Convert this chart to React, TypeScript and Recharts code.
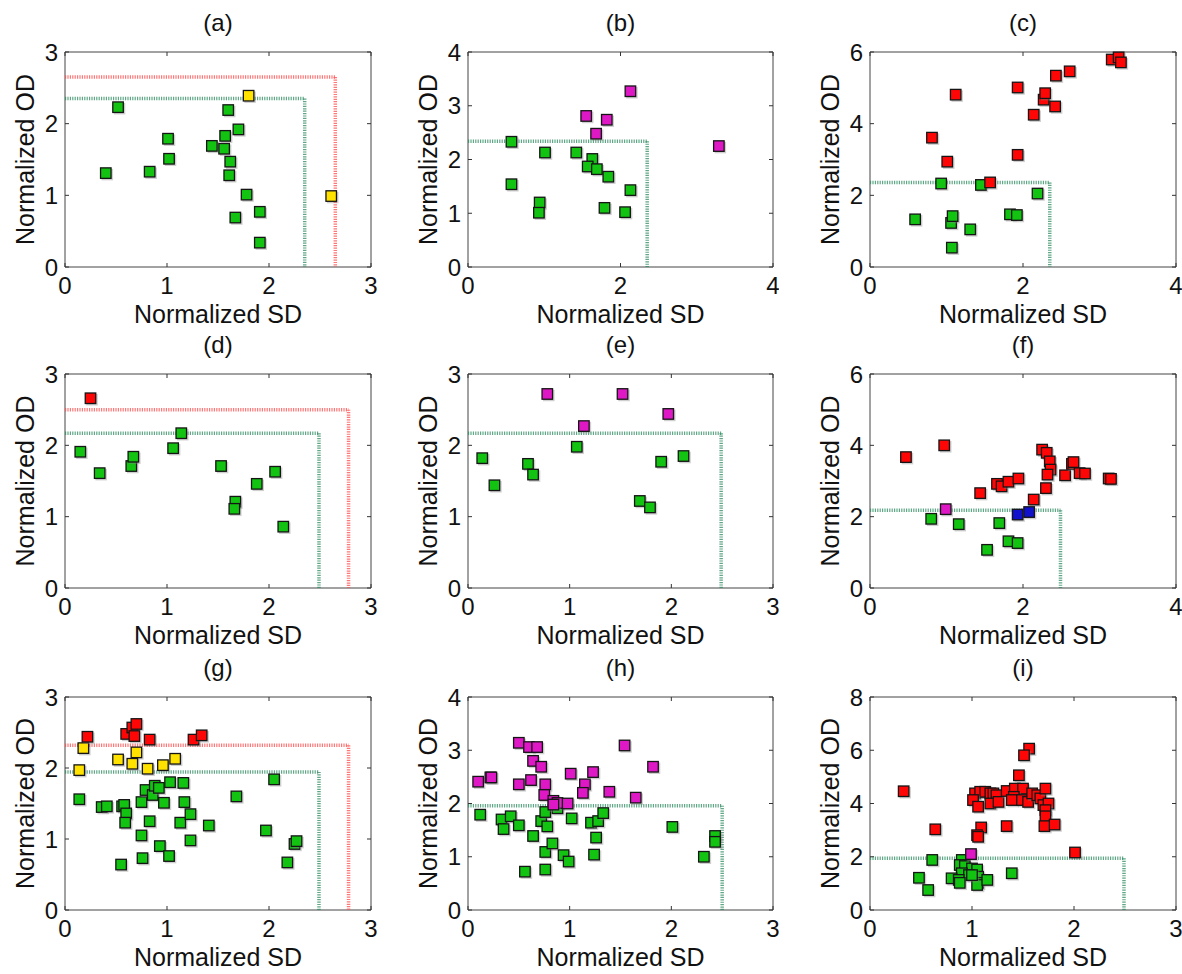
import React from 'react';
import {
  ScatterChart,
  Scatter,
  XAxis,
  YAxis,
  ReferenceLine,
  ReferenceArea,
  Label,
} from 'recharts';

type Pt = [number, number]; // [normalized SD, normalized OD]

// (a)
const aGreen: Pt[] = [
  [0.4, 1.31], [0.52, 2.23], [0.83, 1.33], [1.01, 1.79], [1.02, 1.51], [1.44, 1.69],
  [1.56, 1.65], [1.57, 1.83], [1.6, 2.19], [1.7, 1.92], [1.62, 1.47], [1.61, 1.28],
  [1.78, 1.01], [1.67, 0.69], [1.91, 0.77], [1.91, 0.34],
];
const aYellow: Pt[] = [[1.8, 2.39], [2.61, 0.99]];

// (b)
const bGreen: Pt[] = [
  [0.57, 2.33], [0.57, 1.54], [0.94, 1.2], [0.93, 1.01], [1.01, 2.13], [1.42, 2.13],
  [1.63, 2.01], [1.57, 1.87], [1.69, 1.82], [1.84, 1.68], [1.79, 1.1], [2.06, 1.02], [2.13, 1.43],
];
const bMagenta: Pt[] = [[1.55, 2.81], [1.82, 2.74], [1.68, 2.48], [2.13, 3.27], [3.29, 2.25]];

// (c)
const cRed: Pt[] = [
  [0.81, 3.61], [1.01, 2.94], [1.12, 4.81], [1.57, 2.36], [1.93, 5.01], [1.93, 3.13],
  [2.14, 4.25], [2.27, 4.67], [2.29, 4.85], [2.42, 4.48], [2.43, 5.34], [2.61, 5.46],
  [3.16, 5.79], [3.25, 5.85], [3.28, 5.71],
];
const cGreen: Pt[] = [
  [0.59, 1.33], [0.93, 2.33], [1.06, 1.23], [1.08, 1.42], [1.07, 0.54], [1.31, 1.05],
  [1.45, 2.29], [1.83, 1.47], [1.92, 1.45], [2.19, 2.05],
];

// (d)
const dRed: Pt[] = [[0.25, 2.66]];
const dGreen: Pt[] = [
  [0.15, 1.91], [0.34, 1.61], [0.65, 1.71], [0.67, 1.84], [1.06, 1.96], [1.14, 2.17],
  [1.53, 1.71], [1.67, 1.21], [1.66, 1.11], [1.88, 1.46], [2.06, 1.63], [2.14, 0.86],
];

// (e)
const eMagenta: Pt[] = [[0.78, 2.72], [1.52, 2.72], [1.14, 2.27], [1.97, 2.44]];
const eGreen: Pt[] = [
  [0.14, 1.82], [0.26, 1.44], [0.59, 1.74], [0.64, 1.59], [1.07, 1.98], [1.69, 1.22],
  [1.79, 1.13], [1.9, 1.77], [2.12, 1.85],
];

// (f)
const fRed: Pt[] = [
  [0.47, 3.67], [0.97, 4.0], [1.44, 2.66], [1.66, 2.92], [1.72, 2.85], [1.81, 2.98],
  [1.94, 3.07], [2.14, 2.48], [2.25, 3.88], [2.31, 3.79], [2.35, 3.55], [2.36, 3.32],
  [2.32, 3.18], [2.3, 2.8], [2.55, 3.16], [2.64, 3.48], [2.66, 3.53], [2.74, 3.22],
  [2.81, 3.21], [3.12, 3.07], [3.15, 3.06],
];
const fMagenta: Pt[] = [[0.99, 2.21]];
const fBlue: Pt[] = [[1.93, 2.06], [2.08, 2.13]];
const fGreen: Pt[] = [[0.8, 1.94], [1.16, 1.79], [1.69, 1.82], [1.53, 1.07], [1.81, 1.31], [1.93, 1.26]];

// (g)
const gRed: Pt[] = [
  [0.22, 2.44], [0.6, 2.48], [0.66, 2.57], [0.7, 2.62], [0.68, 2.45], [0.83, 2.4],
  [1.26, 2.4], [1.34, 2.46],
];
const gYellow: Pt[] = [
  [0.18, 2.28], [0.14, 1.97], [0.52, 2.12], [0.7, 2.22], [0.66, 2.06], [0.81, 1.99],
  [0.96, 2.04], [1.08, 2.13],
];
const gGreen: Pt[] = [
  [0.14, 1.56], [0.36, 1.45], [0.41, 1.46], [0.56, 1.46], [0.58, 1.48], [0.6, 1.36],
  [0.59, 1.23], [0.75, 1.52], [0.75, 1.05], [0.76, 0.73], [0.55, 0.64], [0.79, 1.69],
  [0.83, 1.25], [0.86, 1.62], [0.88, 1.75], [0.92, 1.72], [0.97, 1.51], [0.93, 0.9],
  [1.02, 0.76], [1.03, 1.8], [1.16, 1.79], [1.17, 1.52], [1.13, 1.23], [1.23, 1.35],
  [1.23, 0.98], [1.41, 1.19], [1.68, 1.6], [1.97, 1.12], [2.05, 1.84], [2.25, 0.93],
  [2.27, 0.97], [2.18, 0.67],
];

// (h)
const hMagenta: Pt[] = [
  [0.1, 2.41], [0.22, 2.49], [0.23, 2.49], [0.5, 3.14], [0.5, 2.36], [0.6, 3.06],
  [0.68, 3.06], [0.64, 2.8], [0.62, 2.44], [0.72, 2.69], [0.76, 2.36], [0.75, 2.16],
  [0.84, 2.05], [0.88, 2.01], [0.84, 1.98], [0.98, 2.0], [1.01, 2.56], [1.15, 2.36],
  [1.13, 2.2], [1.23, 2.59], [1.39, 2.22], [1.54, 3.09], [1.65, 2.11], [1.82, 2.69],
];
const hGreen: Pt[] = [
  [0.12, 1.79], [0.33, 1.7], [0.35, 1.52], [0.42, 1.76], [0.5, 1.59], [0.64, 1.39],
  [0.56, 0.72], [0.72, 1.67], [0.76, 1.84], [0.78, 1.57], [0.76, 1.09], [0.76, 0.76],
  [0.83, 1.25], [0.88, 1.91], [0.94, 1.03], [0.99, 0.91], [1.02, 1.72], [1.21, 1.64],
  [1.28, 1.67], [1.33, 1.82], [1.26, 1.36], [1.24, 1.04], [2.01, 1.56], [2.32, 1.0],
  [2.43, 1.39], [2.43, 1.28],
];

// (i)
const iRed: Pt[] = [
  [0.33, 4.46], [0.64, 3.03], [1.56, 6.06], [1.51, 5.81], [1.46, 5.06], [1.03, 4.38],
  [1.08, 4.44], [1.13, 4.44], [1.18, 4.38], [1.21, 4.38], [1.24, 4.31], [1.01, 4.13],
  [1.06, 3.88], [1.18, 4.0], [1.26, 4.06], [1.34, 4.47], [1.42, 4.56], [1.5, 4.56],
  [1.41, 4.25], [1.39, 4.13], [1.49, 4.13], [1.55, 4.06], [1.59, 4.38], [1.64, 4.31],
  [1.67, 4.19], [1.72, 4.56], [1.7, 3.94], [1.75, 4.0], [1.72, 3.75], [1.72, 3.52],
  [1.71, 3.15], [1.81, 3.21], [1.34, 3.15], [1.09, 3.1], [1.05, 2.81], [1.06, 2.75],
  [2.01, 2.16],
];
const iMagenta: Pt[] = [[0.99, 2.1]];
const iGreen: Pt[] = [
  [0.61, 1.88], [0.48, 1.21], [0.57, 0.75], [0.9, 1.88], [0.88, 1.69], [0.93, 1.65],
  [1.0, 1.56], [1.05, 1.52], [0.9, 1.38], [0.97, 1.31], [0.8, 1.19], [0.87, 1.13],
  [0.88, 1.02], [1.06, 1.25], [1.06, 1.02], [1.05, 0.94], [1.15, 1.13], [1.0, 1.31],
  [1.39, 1.38],
];

// axis ticks
const ticks3 = [0, 1, 2, 3];
const ticks4 = [0, 1, 2, 3, 4];
const ticks4by2 = [0, 2, 4];
const ticks6 = [0, 2, 4, 6];
const ticks8 = [0, 2, 4, 6, 8];

const GREEN = '#12c312';
const YELLOW = '#ffe200';
const RED = '#ff0606';
const MAGENTA = '#de18c4';
const BLUE = '#1212cc';
const LINE_GREEN = '#2a8a5e';
const LINE_RED = '#ff4a4a';
const FONT = 'Arial, "Liberation Sans", Helvetica, sans-serif';

const ML = 60;
const MT = 40;
const MR = 6;
const MB = 62;
const COL_LEFT = [65, 468, 870];
const COL_W = [306, 305, 306];
const ROW_TOP = [52, 374, 697];
const ROW_H = [215, 214, 213];

const toRows = (pts: Pt[]) => pts.map(([sd, od]) => ({ sd, od }));

function Marker(props: any) {
  const { cx, cy, color } = props;
  if (cx == null || cy == null) return null;
  const s = 10.5;
  return (
    <g>
      <rect x={cx - s / 2 + 1} y={cy - s / 2 + 1} width={s + 1} height={s + 1} fill="#888" opacity={0.4} />
      <rect x={cx - s / 2} y={cy - s / 2} width={s} height={s} fill={color} stroke="#151515" strokeWidth={1.3} />
    </g>
  );
}

interface Group {
  pts: Pt[];
  color: string;
}
interface Limit {
  x: number;
  y: number;
  color: string;
}
interface PanelProps {
  title: string;
  col: number;
  row: number;
  xMax: number;
  yMax: number;
  xTicks: number[];
  yTicks: number[];
  groups: Group[];
  limits: Limit[];
}

function Panel({ title, col, row, xMax, yMax, xTicks, yTicks, groups, limits }: PanelProps) {
  const pw = COL_W[col];
  const ph = ROW_H[row];
  const w = ML + pw + MR;
  const h = MT + ph + MB;
  const plotBottom = MT + ph;

  const xTick = (p: any) => (
    <g>
      <line x1={p.x} x2={p.x} y1={plotBottom} y2={plotBottom - 4} stroke="#333" />
      <line x1={p.x} x2={p.x} y1={MT} y2={MT + 4} stroke="#333" />
      <text x={p.x} y={plotBottom + 27} textAnchor="middle" fontSize={24} fontFamily={FONT} fill="#111">
        {p.payload.value}
      </text>
    </g>
  );
  const yTick = (p: any) => (
    <g>
      <line x1={ML} x2={ML + 4} y1={p.y} y2={p.y} stroke="#333" />
      <line x1={ML + pw} x2={ML + pw - 4} y1={p.y} y2={p.y} stroke="#333" />
      <text x={ML - 7} y={p.y} dy="0.36em" textAnchor="end" fontSize={24} fontFamily={FONT} fill="#111">
        {p.payload.value}
      </text>
    </g>
  );

  return (
    <div style={{ position: 'absolute', left: COL_LEFT[col] - ML, top: ROW_TOP[row] - MT, width: w, height: h }}>
      <div
        style={{
          position: 'absolute',
          left: ML,
          width: pw,
          top: -2,
          textAlign: 'center',
          fontSize: 24,
          lineHeight: '26px',
          fontFamily: FONT,
          color: '#111',
        }}
      >
        {title}
      </div>
      <ScatterChart width={w} height={h} margin={{ top: MT, right: MR, bottom: 0, left: 0 }}>
        <XAxis
          type="number"
          dataKey="sd"
          domain={[0, xMax]}
          ticks={xTicks}
          interval={0}
          height={MB}
          axisLine={false}
          tickLine={false}
          tickSize={0}
          tick={xTick}
        >
          <Label
            content={() => (
              <text x={ML + pw / 2} y={plotBottom + 56} textAnchor="middle" fontSize={25} fontFamily={FONT} fill="#111">
                Normalized SD
              </text>
            )}
          />
        </XAxis>
        <YAxis
          type="number"
          dataKey="od"
          domain={[0, yMax]}
          ticks={yTicks}
          interval={0}
          width={ML}
          axisLine={false}
          tickLine={false}
          tickSize={0}
          tick={yTick}
        >
          <Label
            content={() => (
              <text
                x={29}
                y={MT + ph / 2}
                transform={`rotate(-90 29 ${MT + ph / 2})`}
                textAnchor="middle"
                fontSize={25}
                fontFamily={FONT}
                fill="#111"
              >
                Normalized OD
              </text>
            )}
          />
        </YAxis>
        <ReferenceArea x1={0} x2={xMax} y1={0} y2={yMax} fill="none" stroke="#444" strokeWidth={1} ifOverflow="visible" />
        {limits.map((l, i) => (
          <ReferenceLine
            key={`h${i}`}
            segment={[{ x: 0, y: l.y }, { x: l.x, y: l.y }]}
            stroke={l.color}
            strokeWidth={3.5}
            strokeDasharray="1.2 1.2"
            strokeOpacity={0.75}
          />
        ))}
        {limits.map((l, i) => (
          <ReferenceLine
            key={`v${i}`}
            segment={[{ x: l.x, y: l.y }, { x: l.x, y: 0 }]}
            stroke={l.color}
            strokeWidth={3.5}
            strokeDasharray="1.2 1.2"
            strokeOpacity={0.75}
          />
        ))}
        {groups.map((g, i) => (
          <Scatter
            key={i}
            data={toRows(g.pts)}
            fill={g.color}
            isAnimationActive={false}
            shape={(p: any) => <Marker {...p} color={g.color} />}
          />
        ))}
      </ScatterChart>
    </div>
  );
}

export default function App() {
  return (
    <div style={{ position: 'absolute', left: 0, top: 0, width: 1182, height: 974, overflow: 'hidden', background: '#fff' }}>
      <Panel
        title="(a)" col={0} row={0} xMax={3} yMax={3} xTicks={ticks3} yTicks={ticks3}
        groups={[{ pts: aGreen, color: GREEN }, { pts: aYellow, color: YELLOW }]}
        limits={[{ x: 2.35, y: 2.35, color: LINE_GREEN }, { x: 2.65, y: 2.65, color: LINE_RED }]}
      />
      <Panel
        title="(b)" col={1} row={0} xMax={4} yMax={4} xTicks={ticks4by2} yTicks={ticks4}
        groups={[{ pts: bGreen, color: GREEN }, { pts: bMagenta, color: MAGENTA }]}
        limits={[{ x: 2.35, y: 2.34, color: LINE_GREEN }]}
      />
      <Panel
        title="(c)" col={2} row={0} xMax={4} yMax={6} xTicks={ticks4by2} yTicks={ticks6}
        groups={[{ pts: cGreen, color: GREEN }, { pts: cRed, color: RED }]}
        limits={[{ x: 2.35, y: 2.36, color: LINE_GREEN }]}
      />
      <Panel
        title="(d)" col={0} row={1} xMax={3} yMax={3} xTicks={ticks3} yTicks={ticks3}
        groups={[{ pts: dGreen, color: GREEN }, { pts: dRed, color: RED }]}
        limits={[{ x: 2.49, y: 2.17, color: LINE_GREEN }, { x: 2.78, y: 2.5, color: LINE_RED }]}
      />
      <Panel
        title="(e)" col={1} row={1} xMax={3} yMax={3} xTicks={ticks3} yTicks={ticks3}
        groups={[{ pts: eGreen, color: GREEN }, { pts: eMagenta, color: MAGENTA }]}
        limits={[{ x: 2.49, y: 2.17, color: LINE_GREEN }]}
      />
      <Panel
        title="(f)" col={2} row={1} xMax={4} yMax={6} xTicks={ticks4by2} yTicks={ticks6}
        groups={[
          { pts: fGreen, color: GREEN },
          { pts: fRed, color: RED },
          { pts: fMagenta, color: MAGENTA },
          { pts: fBlue, color: BLUE },
        ]}
        limits={[{ x: 2.49, y: 2.18, color: LINE_GREEN }]}
      />
      <Panel
        title="(g)" col={0} row={2} xMax={3} yMax={3} xTicks={ticks3} yTicks={ticks3}
        groups={[{ pts: gGreen, color: GREEN }, { pts: gYellow, color: YELLOW }, { pts: gRed, color: RED }]}
        limits={[{ x: 2.49, y: 1.945, color: LINE_GREEN }, { x: 2.78, y: 2.32, color: LINE_RED }]}
      />
      <Panel
        title="(h)" col={1} row={2} xMax={3} yMax={4} xTicks={ticks3} yTicks={ticks4}
        groups={[{ pts: hGreen, color: GREEN }, { pts: hMagenta, color: MAGENTA }]}
        limits={[{ x: 2.5, y: 1.96, color: LINE_GREEN }]}
      />
      <Panel
        title="(i)" col={2} row={2} xMax={3} yMax={8} xTicks={ticks3} yTicks={ticks8}
        groups={[{ pts: iGreen, color: GREEN }, { pts: iRed, color: RED }, { pts: iMagenta, color: MAGENTA }]}
        limits={[{ x: 2.49, y: 1.94, color: LINE_GREEN }]}
      />
    </div>
  );
}
